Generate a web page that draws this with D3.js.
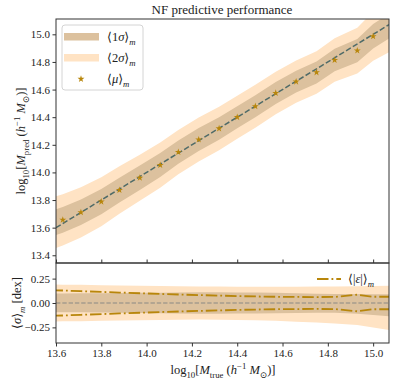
<!DOCTYPE html>
<html>
<head>
<meta charset="utf-8">
<script src="https://cdn.jsdelivr.net/npm/d3@7"></script>
<style>
body{margin:0;background:#fff;}
text{font-family:"Liberation Serif","DejaVu Serif",serif;fill:#222;}
</style>
</head>
<body>
<div id="viz"></div>
<script>
var width = 395;
var height = 383;

// stars: mean prediction per mass bin
var starMass = [13.63,13.71,13.80,13.88,13.97,14.06,14.14,14.23,14.32,14.40,14.48,14.57,14.66,14.75,14.83,14.93,15.00];
var starMean = [13.656,13.711,13.788,13.872,13.961,14.053,14.147,14.238,14.318,14.400,14.479,14.575,14.657,14.724,14.814,14.882,14.986];

// band grid (reaches past the axes edges)
var bandMass = [13.58,13.63,13.71,13.80,13.88,13.97,14.06,14.14,14.23,14.32,14.40,14.48,14.57,14.66,14.75,14.83,14.93,15.00,15.08];
var bandMean = [13.630,13.656,13.711,13.788,13.872,13.961,14.053,14.147,14.238,14.318,14.400,14.479,14.575,14.657,14.724,14.814,14.882,14.986,15.070];
var predSig1 = [0.094,0.093,0.092,0.091,0.090,0.089,0.087,0.085,0.083,0.081,0.080,0.079,0.079,0.079,0.080,0.082,0.085,0.088,0.090];
var predSig2 = [0.188,0.186,0.182,0.177,0.172,0.167,0.164,0.161,0.159,0.157,0.156,0.155,0.154,0.153,0.154,0.157,0.166,0.178,0.190];

// residual panel
var resSig1Up = [0.098,0.098,0.099,0.100,0.102,0.104,0.106,0.108,0.109,0.109,0.108,0.107,0.105,0.101,0.096,0.093,0.091,0.090,0.091];
var resSig1Dn = [0.094,0.094,0.096,0.098,0.100,0.103,0.106,0.108,0.109,0.109,0.108,0.107,0.105,0.102,0.099,0.101,0.110,0.124,0.138];
var resSig2Up = [0.189,0.188,0.186,0.183,0.180,0.177,0.174,0.171,0.169,0.168,0.167,0.166,0.166,0.167,0.168,0.169,0.171,0.174,0.178];
var resSig2Dn = [0.189,0.188,0.186,0.183,0.180,0.177,0.174,0.171,0.170,0.171,0.173,0.177,0.183,0.191,0.199,0.209,0.226,0.250,0.280];
var epsAbs = [0.131,0.128,0.121,0.114,0.107,0.100,0.093,0.087,0.081,0.076,0.071,0.067,0.064,0.062,0.061,0.062,0.085,0.064,0.064];

var xTicks = [13.6,13.8,14.0,14.2,14.4,14.6,14.8,15.0];
var yTicksTop = [13.4,13.6,13.8,14.0,14.2,14.4,14.6,14.8,15.0];
var yTicksBot = [-0.25,0,0.25];

var col1 = "#dcc19e";
var col2 = "#ffe3c4";
var gold = "#b8860b";

var canvas = d3.select('#viz')
	.append('svg')
	.attr("width",width)
	.attr("height",height);

var x = d3.scaleLinear().domain([13.6,15.07]).range([56,389]);
var yTop = d3.scaleLinear().domain([13.344,15.111]).range([263,19]);
var yBot = d3.scaleLinear().domain([-0.41,0.41]).range([343,263]);

var defs = canvas.append("defs");
defs.append("clipPath").attr("id","clipTop").append("rect")
	.attr("x",56).attr("y",19).attr("width",333).attr("height",244);
defs.append("clipPath").attr("id","clipBot").append("rect")
	.attr("x",56).attr("y",263).attr("width",333).attr("height",80);

var rows = bandMass.map(function(m,i){
	return {m:m, mu:bandMean[i], p1:predSig1[i], p2:predSig2[i],
		u1:resSig1Up[i], d1:resSig1Dn[i], u2:resSig2Up[i], d2:resSig2Dn[i], e:epsAbs[i]};
});

// ---- top panel
var topPanel = canvas.append("g").attr("clip-path","url(#clipTop)");

topPanel.append("path").datum(rows)
	.attr("fill",col2)
	.attr("d",d3.area().x(function(d){return x(d.m)})
		.y0(function(d){return yTop(d.mu-d.p2)})
		.y1(function(d){return yTop(d.mu+d.p2)}));

topPanel.append("path").datum(rows)
	.attr("fill",col1)
	.attr("d",d3.area().x(function(d){return x(d.m)})
		.y0(function(d){return yTop(d.mu-d.p1)})
		.y1(function(d){return yTop(d.mu+d.p1)}));

topPanel.append("path").datum(x.domain())
	.attr("fill","none")
	.attr("stroke","#4f6b68")
	.attr("stroke-width",1.5)
	.attr("stroke-dasharray","5.5,2.4")
	.attr("d",d3.line().x(function(d){return x(d)}).y(function(d){return yTop(d)}));

topPanel.selectAll(".star")
	.data(starMass)
	.enter()
		.append("path")
		.attr("class","star")
		.attr("d",d3.symbol().type(d3.symbolStar).size(15))
		.attr("transform",function(d,i){return "translate("+x(d)+","+yTop(starMean[i])+")"})
		.attr("fill",gold);

// ---- bottom panel
var botPanel = canvas.append("g").attr("clip-path","url(#clipBot)");

botPanel.append("path").datum(rows)
	.attr("fill",col2)
	.attr("d",d3.area().x(function(d){return x(d.m)})
		.y0(function(d){return yBot(-d.d2)})
		.y1(function(d){return yBot(d.u2)}));

botPanel.append("path").datum(rows)
	.attr("fill",col1)
	.attr("d",d3.area().x(function(d){return x(d.m)})
		.y0(function(d){return yBot(-d.d1)})
		.y1(function(d){return yBot(d.u1)}));

botPanel.append("path").datum(x.domain())
	.attr("fill","none")
	.attr("stroke","#8a8a84")
	.attr("stroke-width",1.2)
	.attr("stroke-dasharray","4.4,1.9")
	.attr("d",d3.line().x(function(d){return x(d)}).y(function(){return yBot(0)}));

[1,-1].forEach(function(s){
	botPanel.append("path").datum(rows)
		.attr("fill","none")
		.attr("stroke",gold)
		.attr("stroke-width",1.8)
		.attr("stroke-dasharray","11.5,3,1.8,3")
		.attr("d",d3.line().x(function(d){return x(d.m)}).y(function(d){return yBot(s*d.e)}));
});

// ---- axes
function styleAxis(g){
	g.select(".domain").remove();
	g.selectAll(".tick line").attr("stroke","#333");
	g.selectAll(".tick text").attr("font-size",11).attr("fill","#222");
}

canvas.append("g")
	.attr("transform","translate(56,0)")
	.call(d3.axisLeft(yTop).tickValues(yTicksTop).tickSize(3.5).tickPadding(2.5).tickFormat(d3.format(".1f")))
	.call(styleAxis);

canvas.append("g")
	.attr("transform","translate(0,263)")
	.call(d3.axisTop(x).tickValues(xTicks).tickSize(3.5).tickFormat(""))
	.call(styleAxis);

canvas.append("g")
	.attr("transform","translate(56,0)")
	.call(d3.axisLeft(yBot).tickValues(yTicksBot).tickSize(3.5).tickPadding(2.5).tickFormat(d3.format(".2f")))
	.call(styleAxis);

canvas.append("g")
	.attr("transform","translate(0,343)")
	.call(d3.axisBottom(x).tickValues(xTicks).tickSize(3.5).tickPadding(3).tickFormat(d3.format(".1f")))
	.call(styleAxis);

canvas.append("rect")
	.attr("x",56).attr("y",19).attr("width",333).attr("height",244)
	.attr("fill","none").attr("stroke","#333").attr("stroke-width",1);
canvas.append("rect")
	.attr("x",56).attr("y",263).attr("width",333).attr("height",80)
	.attr("fill","none").attr("stroke","#333").attr("stroke-width",1);

// ---- text with sub/superscripts
function richText(g, parts, size){
	var t = g.append("text").attr("font-size",size);
	var shift = 0;
	parts.forEach(function(p){
		var target = p.sub ? size*0.3 : (p.sup ? -size*0.4 : 0);
		t.append("tspan")
			.attr("dy",target-shift)
			.attr("font-size",(p.sub||p.sup) ? size*0.7 : size)
			.attr("font-style",p.it ? "italic" : "normal")
			.text(p.t);
		shift = target;
	});
	return t;
}

canvas.append("text")
	.attr("x",222).attr("y",14)
	.attr("text-anchor","middle")
	.attr("font-size",13)
	.text("NF predictive performance");

function massLabel(sub){
	return [{t:"log"},{t:"10",sub:1},{t:"["},{t:"M",it:1},{t:sub,sub:1},{t:" ("},{t:"h",it:1},
		{t:"−1",sup:1},{t:" "},{t:"M",it:1},{t:"⊙",sub:1},{t:")]"}];
}

richText(canvas, massLabel("pred"), 12.5)
	.attr("text-anchor","middle")
	.attr("transform","translate(25,141) rotate(-90)");

richText(canvas, massLabel("true"), 12.5)
	.attr("text-anchor","middle")
	.attr("transform","translate(223,374)");

richText(canvas, [{t:"⟨"},{t:"σ",it:1},{t:"⟩"},{t:"m",sub:1,it:1},{t:" [dex]"}], 12.5)
	.attr("text-anchor","middle")
	.attr("transform","translate(21,303) rotate(-90)");

// ---- legends
var leg = canvas.append("g");
leg.append("rect")
	.attr("x",62).attr("y",25).attr("width",81).attr("height",65).attr("rx",3)
	.attr("fill","#fff").attr("fill-opacity",0.8)
	.attr("stroke","#d4d4d4").attr("stroke-width",1);
leg.append("rect").attr("x",64).attr("y",33).attr("width",35).attr("height",7.5).attr("fill",col1);
leg.append("rect").attr("x",64).attr("y",54).attr("width",35).attr("height",7.5).attr("fill",col2);
leg.append("path")
	.attr("d",d3.symbol().type(d3.symbolStar).size(15))
	.attr("transform","translate(81,79)")
	.attr("fill",gold);
richText(leg, [{t:"⟨1"},{t:"σ",it:1},{t:"⟩"},{t:"m",sub:1,it:1}], 12.5).attr("x",107).attr("y",41);
richText(leg, [{t:"⟨2"},{t:"σ",it:1},{t:"⟩"},{t:"m",sub:1,it:1}], 12.5).attr("x",107).attr("y",62);
richText(leg, [{t:"⟨"},{t:"μ",it:1},{t:"⟩"},{t:"m",sub:1,it:1}], 12.5).attr("x",107).attr("y",83);

canvas.append("line")
	.attr("x1",317).attr("x2",341).attr("y1",279).attr("y2",279)
	.attr("stroke",gold).attr("stroke-width",1.8)
	.attr("stroke-dasharray","11.5,3,1.8,3");
richText(canvas, [{t:"⟨|"},{t:"ε",it:1},{t:"|⟩"},{t:"m",sub:1,it:1}], 12.5).attr("x",348).attr("y",283);
</script>
</body>
</html>
